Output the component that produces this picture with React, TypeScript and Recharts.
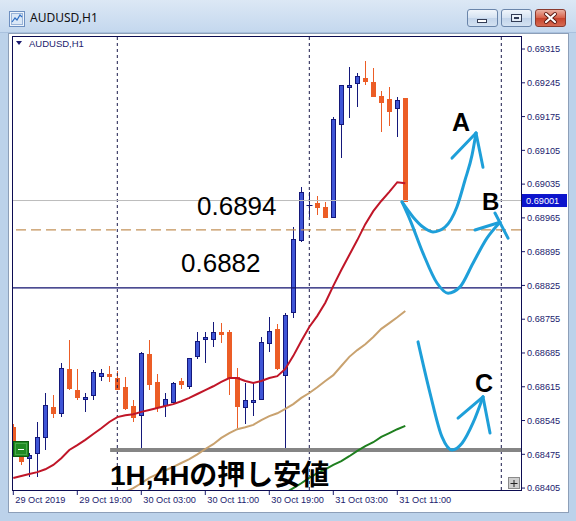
import React from 'react';
import { ComposedChart, Bar, Line, XAxis, YAxis, ReferenceLine } from 'recharts';

// AUDUSD H1, one entry per hourly bar from 29 Oct 11:00 to 31 Oct 12:00
const opens = [
  0.68531, 0.68473, 0.68467, 0.68478, 0.68511, 0.68573, 0.6856, 0.68652, 0.68608, 0.68589,
  0.68598, 0.68637, 0.68641, 0.68633, 0.68614, 0.68575, 0.68556, 0.68683, 0.68625, 0.68577,
  0.68583, 0.68627, 0.68616, 0.68679, 0.68714, 0.68714, 0.68728, 0.68728, 0.68635, 0.68573,
  0.68583, 0.68589, 0.68706, 0.68735, 0.68639, 0.6877, 0.68919, 0.68991, 0.68996, 0.68987,
  0.68967, 0.6916, 0.69236, 0.69245, 0.69255, 0.69247, 0.69218, 0.69211, 0.69193, 0.69213,
];
const highs = [
  0.68538, 0.68482, 0.68478, 0.68542, 0.68602, 0.68598, 0.68664, 0.68712, 0.68652, 0.68602,
  0.6865, 0.68652, 0.68658, 0.68648, 0.68635, 0.68587, 0.68686, 0.68712, 0.68641, 0.68602,
  0.68625, 0.68633, 0.68675, 0.68728, 0.68728, 0.68749, 0.68747, 0.68733, 0.68654, 0.68623,
  0.68623, 0.68718, 0.68759, 0.68745, 0.68768, 0.68946, 0.69029, 0.69019, 0.6901, 0.68998,
  0.69174, 0.6924, 0.69278, 0.69265, 0.6929, 0.69276, 0.69228, 0.69236, 0.69216, 0.69213,
];
const lows = [
  0.68496, 0.68453, 0.68428, 0.68428, 0.68484, 0.6855, 0.68552, 0.68608, 0.68587, 0.68562,
  0.68587, 0.68627, 0.68625, 0.68608, 0.68567, 0.68542, 0.68488, 0.68608, 0.68562, 0.68552,
  0.68581, 0.6861, 0.6861, 0.68672, 0.68664, 0.68697, 0.68706, 0.68598, 0.68529, 0.68538,
  0.68554, 0.68587, 0.68687, 0.6865, 0.68488, 0.68757, 0.68915, 0.68967, 0.68971, 0.68965,
  0.68965, 0.69089, 0.69172, 0.69195, 0.6924, 0.69216, 0.69143, 0.69155, 0.69133, 0.69001,
];
const closes = [
  0.68505, 0.68461, 0.68473, 0.68511, 0.68577, 0.6856, 0.68654, 0.68612, 0.68594, 0.68594,
  0.68645, 0.68643, 0.68637, 0.6861, 0.68571, 0.68552, 0.68685, 0.68621, 0.68573, 0.68589,
  0.68623, 0.68621, 0.68674, 0.6871, 0.68718, 0.68728, 0.68724, 0.68635, 0.68575, 0.68587,
  0.68587, 0.68708, 0.6873, 0.68654, 0.68764, 0.68921, 0.69019, 0.68992, 0.68987, 0.68967,
  0.6917, 0.6924, 0.6924, 0.69259, 0.69249, 0.69218, 0.69205, 0.69187, 0.69209, 0.69001,
];

// moving averages per bar (null where the line is below the visible range)
const maFast = [
  0.68426, 0.6843, 0.68434, 0.68438, 0.68444, 0.68453, 0.68467, 0.68484, 0.68494, 0.68505,
  0.68517, 0.68529, 0.68542, 0.68552, 0.68556, 0.68558, 0.68563, 0.68567, 0.68571, 0.68575,
  0.68579, 0.68585, 0.68592, 0.686, 0.68608, 0.68616, 0.68625, 0.68633, 0.68633, 0.68627,
  0.68623, 0.68627, 0.68633, 0.68637, 0.68652, 0.68679, 0.6871, 0.68739, 0.68762, 0.68789,
  0.68824, 0.68857, 0.68888, 0.68919, 0.68952, 0.68979, 0.69, 0.69019, 0.69039, 0.69037,
];
const maMid = [
  null, null, null, null, null, null, null, null, null, null,
  null, null, 0.68378, 0.68388, 0.68397, 0.68405, 0.68415, 0.68426, 0.68434, 0.68442,
  0.68449, 0.68457, 0.68465, 0.68475, 0.68486, 0.68496, 0.68509, 0.68519, 0.68527, 0.68531,
  0.68536, 0.68546, 0.68554, 0.6856, 0.68569, 0.68579, 0.68592, 0.68602, 0.68614, 0.68627,
  0.68639, 0.68658, 0.68677, 0.68691, 0.68703, 0.68718, 0.68735, 0.68747, 0.68759, 0.68772,
];
const maSlow = [
  null, null, null, null, null, null, null, null, null, null,
  null, null, null, null, null, null, null, null, null, null,
  null, null, null, null, null, null, null, null, null, null,
  null, null, null, 0.68386, 0.68395, 0.68405, 0.68415, 0.68426, 0.68436, 0.68444,
  0.68453, 0.68461, 0.68471, 0.68482, 0.68492, 0.685, 0.68511, 0.68519, 0.68527, 0.68534,
];

const timeTicks = [0, 8, 16, 24, 32, 40, 48];
const timeLabels = [
  '29 Oct 2019', '29 Oct 19:00', '30 Oct 03:00', '30 Oct 11:00',
  '30 Oct 19:00', '31 Oct 03:00', '31 Oct 11:00',
];
const priceTicks = [
  0.68405, 0.68475, 0.68545, 0.68615, 0.68685, 0.68755, 0.68825,
  0.68895, 0.68965, 0.69035, 0.69105, 0.69175, 0.69245, 0.69315,
];
const daySeparators = [13, 37, 61];

const bidPrice = 0.69001;
const levelUpper = 0.6894;
const levelLower = 0.6882;
const pullbackLow = 0.68484;
const pullbackFrom = 12.1;

// scenario sketches, (bar, price)
const pathA = [
  { bar: 48.59, p: 0.68998 }, { bar: 49.96, p: 0.68967 }, { bar: 51.21, p: 0.68946 },
  { bar: 52.46, p: 0.68936 }, { bar: 53.96, p: 0.68946 }, { bar: 55.46, p: 0.68988 },
  { bar: 56.46, p: 0.69043 }, { bar: 57.34, p: 0.69095 }, { bar: 57.84, p: 0.69141 },
];
const headA1 = [{ bar: 54.84, p: 0.69089 }, { bar: 57.84, p: 0.69141 }];
const headA2 = [{ bar: 57.84, p: 0.69141 }, { bar: 58.71, p: 0.6907 }];

const pathB = [
  { bar: 48.59, p: 0.68998 }, { bar: 49.59, p: 0.68961 }, { bar: 51.21, p: 0.68892 },
  { bar: 52.96, p: 0.6883 }, { bar: 54.34, p: 0.68809 }, { bar: 55.84, p: 0.68822 },
  { bar: 57.46, p: 0.68871 }, { bar: 59.21, p: 0.68923 }, { bar: 60.84, p: 0.68956 },
];
const headB1 = [{ bar: 57.71, p: 0.6894 }, { bar: 60.84, p: 0.68956 }];
const headB2 = [{ bar: 60.21, p: 0.68975 }, { bar: 61.84, p: 0.68923 }];

const pathC = [
  { bar: 50.59, p: 0.68708 }, { bar: 52.09, p: 0.68602 }, { bar: 53.59, p: 0.68511 },
  { bar: 54.84, p: 0.68484 }, { bar: 56.09, p: 0.68498 }, { bar: 57.46, p: 0.6854 },
  { bar: 58.71, p: 0.68594 },
];
const headC1 = [{ bar: 55.59, p: 0.6855 }, { bar: 58.71, p: 0.68594 }];
const headC2 = [{ bar: 58.71, p: 0.68594 }, { bar: 59.59, p: 0.68519 }];

const rows = opens.map((o, i) => ({
  bar: i,
  open: o,
  high: highs[i],
  low: lows[i],
  close: closes[i],
  span: [lows[i], highs[i]],
  fast: maFast[i],
  mid: maMid[i],
  slow: maSlow[i],
}));

const NAVY = '#1b1b6e';
const BULL_FILL = '#3f55d6';
const BULL_LINE = '#14187a';
const BEAR = '#ec5d26';
const SKETCH = '#1e9fd9';
const AXIS_FONT = '"Liberation Sans", Arial, sans-serif';

function Candle(props: any) {
  const { x, y, width, height, payload } = props;
  if (!payload) return null;
  const { open, high, low, close } = payload;
  const top = height < 0 ? y + height : y;
  const span = Math.abs(height);
  const py = (v: number) => (high === low ? top : top + ((high - v) / (high - low)) * span);
  const cx = Math.floor(x + width / 2) + 0.5;
  const up = close >= open;
  const doji = Math.abs(close - open) < 0.00003;
  const edge = up || doji ? BULL_LINE : BEAR;
  const yTop = Math.round(py(Math.max(open, close)));
  const yBot = Math.round(py(Math.min(open, close)));
  return (
    <g>
      <line x1={cx} x2={cx} y1={Math.round(py(high))} y2={Math.round(py(low))} stroke={edge} strokeWidth={1} />
      {doji ? (
        <line x1={cx - 3} x2={cx + 3} y1={yTop + 0.5} y2={yTop + 0.5} stroke={BULL_LINE} strokeWidth={1} />
      ) : (
        <rect
          x={cx - 2}
          y={yTop + 0.5}
          width={4}
          height={Math.max(yBot - yTop, 1)}
          fill={up ? BULL_FILL : BEAR}
          stroke={edge}
          strokeWidth={1}
        />
      )}
    </g>
  );
}

function TimeTick(props: any) {
  const { x, y, payload } = props;
  const label = timeLabels[timeTicks.indexOf(payload.value)];
  return (
    <text x={x + 2} y={y + 8} fontSize={9.2} fill={NAVY} fontFamily={AXIS_FONT}>
      {label}
    </text>
  );
}

function BidTag(props: any) {
  const vb = props.viewBox;
  if (!vb) return null;
  const x = vb.x + vb.width + 1;
  const y = vb.y;
  return (
    <g>
      <rect x={x} y={y - 6.5} width={45} height={13} fill="#0c14cc" />
      <text x={x + 4} y={y + 3.5} fontSize={9.2} fill="#ffffff" fontFamily={AXIS_FONT}>
        {bidPrice.toFixed(5)}
      </text>
    </g>
  );
}

const sketchProps = {
  dataKey: 'p',
  stroke: SKETCH,
  strokeWidth: 3,
  dot: false,
  activeDot: false,
  isAnimationActive: false,
  strokeLinecap: 'round' as const,
  legendType: 'none' as const,
};

function WindowButton({ left, red, children }: { left: number; red?: boolean; children: React.ReactNode }) {
  return (
    <div
      style={{
        position: 'absolute',
        left,
        top: 9,
        width: 31,
        height: 18,
        boxSizing: 'border-box',
        border: red ? '1px solid #8b3a2e' : '1px solid #6a85aa',
        borderRadius: 3,
        background: red
          ? 'linear-gradient(#eab0a2, #d8634c 48%, #c7432c 52%, #d66a52)'
          : 'linear-gradient(#f0f5fb, #d6e3f2 48%, #c2d4ea 52%, #d4e2f2)',
      }}
    >
      <svg width={29} height={16} style={{ position: 'absolute', left: 0, top: 0 }}>
        {children}
      </svg>
    </div>
  );
}

export default function App() {
  return (
    <div
      style={{
        position: 'absolute',
        left: 0,
        top: 0,
        width: 576,
        height: 521,
        overflow: 'hidden',
        background: '#bcd2ea',
        fontFamily: AXIS_FONT,
      }}
    >
      {/* title bar */}
      <div
        style={{
          position: 'absolute',
          left: 0,
          top: 0,
          width: 576,
          height: 33,
          background: 'linear-gradient(#dce8f5, #c4d8ee)',
          borderBottom: '1px solid #a9c1de',
          boxSizing: 'border-box',
        }}
      />
      <svg width={17} height={17} style={{ position: 'absolute', left: 9, top: 11 }}>
        <rect x={0.5} y={0.5} width={15} height={15} fill="#eef4fb" stroke="#6d8fc0" />
        <rect x={2.5} y={2.5} width={11} height={11} fill="#dbe8f7" stroke="#9ab4d8" />
        <polyline points="3,11 6,7 8,9 11,4 13,6" fill="none" stroke="#2f6fc4" strokeWidth={1.2} />
      </svg>
      <div
        style={{
          position: 'absolute',
          left: 30,
          top: 10,
          fontSize: 12,
          fontFamily: '"Noto Sans", sans-serif',
          color: '#111',
          lineHeight: '16px',
        }}
      >
        AUDUSD,H1
      </div>
      <WindowButton left={467}>
        <rect x={9.5} y={9.5} width={9} height={3} fill="#ffffff" stroke="#333c55" />
      </WindowButton>
      <WindowButton left={501}>
        <rect x={9.5} y={4.5} width={10} height={7} fill="none" stroke="#333c55" strokeWidth={1} />
        <rect x={11} y={6} width={7} height={4} fill="none" stroke="#ffffff" strokeWidth={1} />
        <rect x={12.5} y={7.5} width={4} height={1} fill="none" stroke="#333c55" strokeWidth={1} />
      </WindowButton>
      <WindowButton left={535} red>
        <path d="M10 4 L19 12 M19 4 L10 12" stroke="#5a1a12" strokeWidth={4} strokeLinecap="round" />
        <path d="M10 4 L19 12 M19 4 L10 12" stroke="#ffffff" strokeWidth={2.2} strokeLinecap="round" />
      </WindowButton>

      {/* chart panel */}
      <div
        style={{
          position: 'absolute',
          left: 8,
          top: 33,
          width: 561,
          height: 480,
          boxSizing: 'border-box',
          background: '#ffffff',
          border: '1px solid #8d9fb8',
        }}
      />

      <div style={{ position: 'absolute', left: 0, top: 0 }}>
        <ComposedChart
          width={576}
          height={521}
          data={rows}
          margin={{ top: 36, right: 0, left: 12, bottom: 0 }}
        >
          <XAxis
            dataKey="bar"
            type="number"
            domain={[-0.1625, 63.4625]}
            allowDataOverflow
            ticks={timeTicks}
            interval={0}
            height={31}
            axisLine={false}
            tickLine={{ stroke: NAVY }}
            tickSize={5}
            tickMargin={0}
            tick={<TimeTick />}
          />
          <YAxis
            type="number"
            orientation="right"
            width={55}
            domain={[0.68401, 0.69342]}
            allowDataOverflow
            ticks={priceTicks}
            interval={0}
            axisLine={false}
            tickLine={{ stroke: NAVY }}
            tickSize={4}
            tickMargin={2}
            tickFormatter={(v: number) => v.toFixed(5)}
            tick={{ fontSize: 9.2, fill: NAVY, fontFamily: AXIS_FONT, textAnchor: 'start' }}
          />

          {daySeparators.map((b) => (
            <ReferenceLine key={b} x={b} stroke="#1a1a4a" strokeDasharray="3 3" ifOverflow="hidden" />
          ))}
          <ReferenceLine y={bidPrice} stroke="#bcbcbc" label={<BidTag />} />
          <ReferenceLine y={levelUpper} stroke="#c4925a" strokeWidth={1.2} strokeDasharray="10 5" />
          <ReferenceLine y={levelLower} stroke="#10106e" strokeWidth={1.2} />
          <ReferenceLine
            segment={[
              { x: pullbackFrom, y: pullbackLow },
              { x: 63.4625, y: pullbackLow },
            ]}
            stroke="#858585"
            strokeWidth={4}
          />

          <Bar dataKey="span" barSize={5} shape={<Candle />} isAnimationActive={false} />

          <Line dataKey="mid" type="linear" stroke="#c9a26f" strokeWidth={2} dot={false} isAnimationActive={false} />
          <Line dataKey="slow" type="linear" stroke="#1f7f1f" strokeWidth={2} dot={false} isAnimationActive={false} />
          <Line dataKey="fast" type="linear" stroke="#c01628" strokeWidth={2} dot={false} isAnimationActive={false} />

          <Line {...sketchProps} name="pathA" data={pathA} type="monotone" />
          <Line {...sketchProps} name="headA1" data={headA1} type="linear" />
          <Line {...sketchProps} name="headA2" data={headA2} type="linear" />
          <Line {...sketchProps} name="pathB" data={pathB} type="monotone" />
          <Line {...sketchProps} name="headB1" data={headB1} type="linear" />
          <Line {...sketchProps} name="headB2" data={headB2} type="linear" />
          <Line {...sketchProps} name="pathC" data={pathC} type="monotone" />
          <Line {...sketchProps} name="headC1" data={headC1} type="linear" />
          <Line {...sketchProps} name="headC2" data={headC2} type="linear" />
        </ComposedChart>
      </div>

      {/* frame, symbol caption and notes on top of the plot */}
      <svg width={576} height={521} style={{ position: 'absolute', left: 0, top: 0, pointerEvents: 'none' }}>
        <rect x={12.5} y={36.5} width={509} height={454} fill="none" stroke="#0c0c52" strokeWidth={1} />
        <path d="M16 41 L22 41 L19 45 Z" fill={NAVY} />
        <text x={29} y={47} fontSize={9.5} fill={NAVY} fontFamily={AXIS_FONT}>
          AUDUSD,H1
        </text>

        <rect x={13.5} y={441.5} width={15} height={15} fill="#1f8a22" stroke="#0e5a10" />
        <rect x={15.5} y={443.5} width={11} height={11} fill="none" stroke="#48a84a" />
        <line x1={18} x2={24} y1={449.5} y2={449.5} stroke="#ffffff" strokeWidth={1} />

        <rect x={508.5} y={477.5} width={11} height={11} fill="#cfcfcf" stroke="#8a8a8a" />
        <path d="M514 480 L514 487 M510.5 483.5 L517.5 483.5" stroke="#222" strokeWidth={1} />

        <g fontFamily='"Liberation Sans", Arial, "Noto Sans CJK JP", sans-serif' fill="#000">
          <text x={197} y={215} fontSize={26}>0.6894</text>
          <text x={181} y={272} fontSize={26}>0.6882</text>
          <text x={110} y={485} fontSize={28} fontWeight={700}>1H,4Hの押し安値</text>
          <text x={452} y={131} fontSize={25} fontWeight={700}>A</text>
          <text x={482} y={210} fontSize={24} fontWeight={700}>B</text>
          <text x={475} y={392} fontSize={25} fontWeight={700}>C</text>
        </g>
      </svg>
    </div>
  );
}
